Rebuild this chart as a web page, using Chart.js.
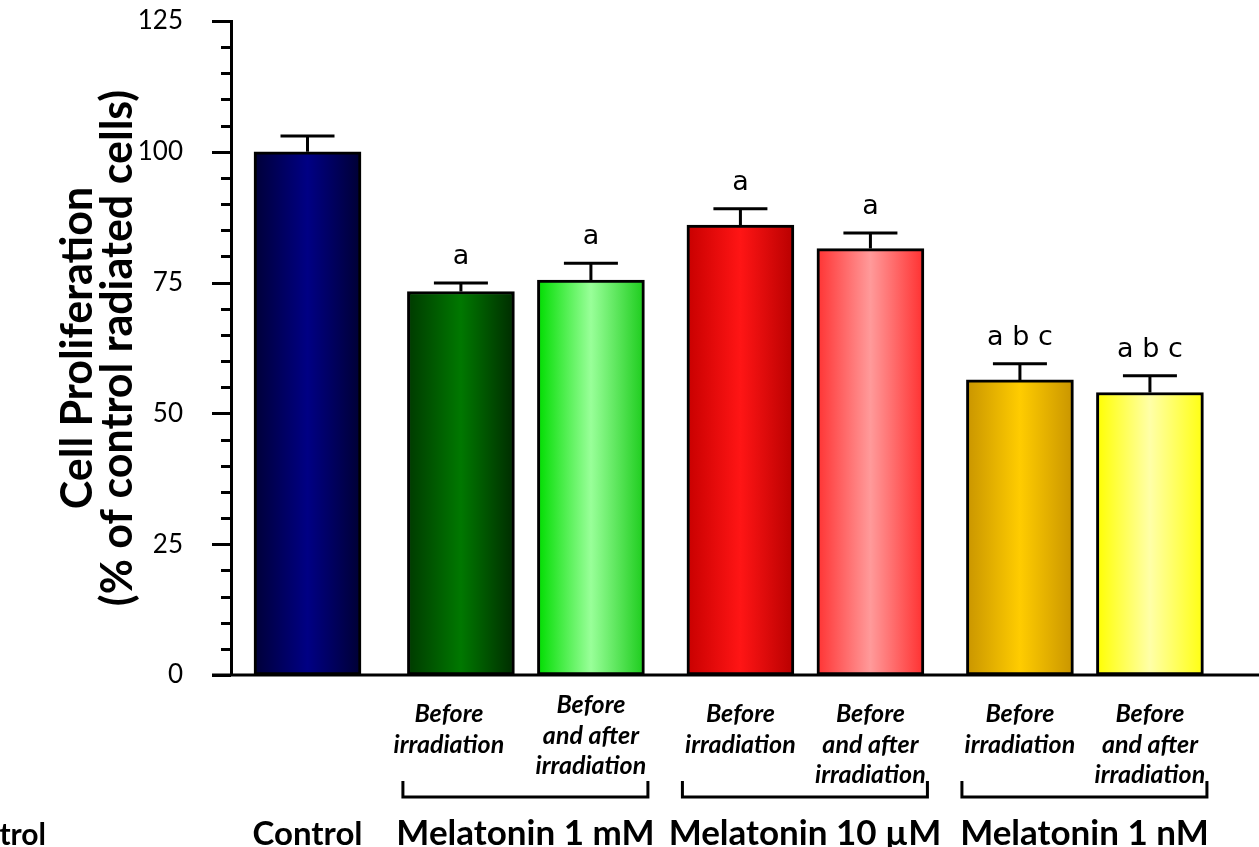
<!DOCTYPE html>
<html>
<head>
<meta charset="utf-8">
<script src="https://cdn.jsdelivr.net/npm/chart.js@4.4.0/dist/chart.umd.min.js"></script>
<style>
    html, body { margin: 0; padding: 0; background: #fff; }
    #wrap { width: 1259px; height: 847px; }
</style>
</head>
<body>
<div id="wrap"><canvas id="prolifChart" width="1259" height="847"></canvas></div>
<script>
// chart values
const groups = ['Control', 'Melatonin 1 mM', 'Melatonin 10 µM', 'Melatonin 1 nM'];
const treatments = [['Before', 'irradiation'], ['Before', 'and after', 'irradiation']];
const barGroup = [0, 1, 1, 2, 2, 3, 3];
const barTreatment = [null, 0, 1, 0, 1, 0, 1];
const means = [100, 73.3, 75.5, 86.0, 81.5, 56.4, 54.0];
const sems = [3.0, 1.6, 3.2, 3.1, 3.0, 3.1, 3.2];
const letters = ['', 'a', 'a', 'a', 'a', 'a b c', 'a b c'];
const yTicks = [0, 25, 50, 75, 100, 125];

// colours per bar: left edge, centre, right edge
const edgeLeft = ['#000038', '#003a00', '#00dd00', '#c80000', '#ff3333', '#c99500', '#ffff00'];
const centre = ['#000084', '#007800', '#99ff99', '#ff1515', '#ff9a9a', '#ffcc00', '#ffffa8'];
const edgeRight = ['#000034', '#002c00', '#1ccc1c', '#b80000', '#ff3030', '#c99500', '#ffff10'];

// x position of each bar: control alone, then two bars per group
const xPos = barGroup.map((g, i) => g === 0 ? 0 : 1.18 + (g - 1) * 2.15 + barTreatment[i]);
const points = means.map((m, i) => ({ x: xPos[i], y: m }));

const BAR_W = 107;

function barGradient(c) {
    const chart = c.chart;
    const i = c.dataIndex;
    const xs = chart.scales && chart.scales.x;
    if (!xs || !chart.chartArea || i === undefined) return centre[0];
    const cx = xs.getPixelForValue(xPos[i]);
    const g = chart.ctx.createLinearGradient(cx - BAR_W / 2, 0, cx + BAR_W / 2, 0);
    g.addColorStop(0, edgeLeft[i]);
    g.addColorStop(0.5, centre[i]);
    g.addColorStop(1, edgeRight[i]);
    return g;
}

function noPadding(scale) {
    scale.paddingTop = 0;
    scale.paddingBottom = 0;
    scale.paddingLeft = 0;
    scale.paddingRight = 0;
}

const extras = {
    id: 'extras',
    afterDraw(chart) {
        const ctx = chart.ctx;
        const xs = chart.scales.x;
        const ys = chart.scales.y;
        const left = chart.chartArea.left;
        const zeroY = ys.getPixelForValue(0);

        ctx.save();
        ctx.strokeStyle = '#000';
        ctx.fillStyle = '#000';
        ctx.lineWidth = 3;
        ctx.lineCap = 'butt';

        // y ticks, long on labelled values
        for (let v = 0; v <= 125; v += 5) {
            const y = Math.round(ys.getPixelForValue(v)) + 0.5;
            const len = yTicks.includes(v) ? 19 : 10;
            ctx.beginPath();
            ctx.moveTo(left - len, y);
            ctx.lineTo(left, y);
            ctx.stroke();
        }

        // x axis line
        ctx.beginPath();
        ctx.moveTo(left - 19, zeroY);
        ctx.lineTo(chart.width, zeroY);
        ctx.stroke();

        // error bars and letters
        ctx.font = '27px "DejaVu Sans"';
        ctx.textAlign = 'center';
        ctx.textBaseline = 'alphabetic';
        means.forEach((m, i) => {
            const x = xs.getPixelForValue(xPos[i]);
            const yTop = ys.getPixelForValue(m);
            const yCap = ys.getPixelForValue(m + sems[i]);
            ctx.beginPath();
            ctx.moveTo(x, yTop);
            ctx.lineTo(x, yCap);
            ctx.moveTo(x - 27, yCap);
            ctx.lineTo(x + 27, yCap);
            ctx.stroke();
            if (letters[i]) ctx.fillText(letters[i], x, yCap - 19);
        });

        // treatment labels under bars
        ctx.font = 'italic bold 25px Lato';
        means.forEach((m, i) => {
            if (barTreatment[i] === null) return;
            const lines = treatments[barTreatment[i]];
            let x = xs.getPixelForValue(xPos[i]);
            let base = 722;
            if (barGroup[i] === 1) {
                if (barTreatment[i] === 0) x -= 12;
                else base = 713;
            }
            lines.forEach((t, k) => ctx.fillText(t, x, base + k * 30.5));
        });

        // brackets and group names
        ctx.font = 'bold 35px Lato';
        for (let g = 1; g < groups.length; g++) {
            const idx = barGroup.map((b, i) => b === g ? i : -1).filter(i => i >= 0);
            const x1 = xs.getPixelForValue(xPos[idx[0]]) - 58;
            const x2 = xs.getPixelForValue(xPos[idx[idx.length - 1]]) + 57;
            ctx.beginPath();
            ctx.moveTo(x1, 781);
            ctx.lineTo(x1, 797);
            ctx.lineTo(x2, 797);
            ctx.lineTo(x2, 781);
            ctx.stroke();
            ctx.fillText(groups[g], (x1 + x2) / 2, 845);
        }
        ctx.font = 'bold 33px Lato';
        ctx.fillText(groups[0], xs.getPixelForValue(xPos[0]), 845);

        // clipped label at left edge
        ctx.font = 'bold 30px Lato';
        ctx.textAlign = 'right';
        ctx.fillText('Control', 46, 845);

        ctx.restore();
    }
};

const ctx = document.getElementById('prolifChart').getContext('2d');
new Chart(ctx, {
    type: 'bar',
    data: {
        datasets: [{
            data: points,
            backgroundColor: barGradient,
            borderColor: '#000',
            borderWidth: 3,
            borderSkipped: false,
            barThickness: BAR_W
        }]
    },
    options: {
        responsive: false,
        animation: false,
        devicePixelRatio: 1,
        layout: { padding: { top: 21, bottom: 172, left: 0, right: 0 } },
        plugins: { legend: { display: false }, tooltip: { enabled: false } },
        scales: {
            x: {
                type: 'linear', min: -0.5885, max: 7.319, display: false,
                offset: false,
                afterFit: noPadding
            },
            y: {
                min: 0,
                max: 125,
                ticks: {
                    stepSize: 5,
                    autoSkip: false,
                    padding: 48,
                    color: '#000',
                    font: { family: 'Lato', size: 26 },
                    callback: v => yTicks.includes(v) ? v : ''
                },
                grid: { display: false, drawTicks: false },
                border: { display: true, color: '#000', width: 3 },
                title: {
                    display: true,
                    text: ['Cell Proliferation', '(% of control radiated cells)'],
                    color: '#000',
                    font: { family: 'Lato', size: 43, weight: 'bold', lineHeight: 0.93 },
                    padding: { top: 58, bottom: 0 }
                },
                afterFit(scale) {
                    scale.width = 231;
                    noPadding(scale);
                }
            }
        }
    },
    plugins: [extras]
});
</script>
</body>
</html>
